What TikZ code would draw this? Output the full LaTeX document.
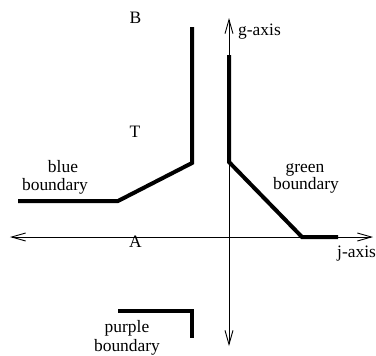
\documentclass[tikz,border=0pt]{standalone}
\usepackage{fontspec}
\setmainfont{Liberation Serif}
\usetikzlibrary{arrows.meta}
\begin{document}
\begin{tikzpicture}[x=1bp,y=-1bp,
  lbl/.style={font=\fontsize{17.5}{19}\selectfont, inner sep=0pt, align=center},
  axis/.style={line width=0.9bp, {Straight Barb[length=14bp,width=8bp]}-{Straight Barb[length=14bp,width=8bp]}},
  bnd/.style={line width=4bp, line join=miter}]
\useasboundingbox (0,0) rectangle (376,356);
% axes
\coordinate (gtop) at (229,18);
\coordinate (gbot) at (229,346);
\coordinate (jleft) at (10,237);
\coordinate (jright) at (373,237);
\draw[axis] (gbot) -- (gtop);
\draw[axis] (jleft) -- (jright);
% blue boundary
\draw[bnd] (18,201) -- (118,201) -- (192,163) -- (192,27);
% green boundary
\draw[bnd] (229,55) -- (229,162) -- (302,237) -- (338,237);
% purple boundary
\draw[bnd] (118,311) -- (192,311) -- (192,338);
% labels
\node[lbl, anchor=base] (B) at (135.5,23) {B};
\node[lbl, anchor=base] (T) at (135,137) {T};
\node[lbl, anchor=base] (A) at (135.5,247) {A};
\node[lbl, anchor=base west] (gax) at (238,35) {g-axis};
\node[lbl, anchor=base west] (jax) at (337,257) {j-axis};
\node[lbl, anchor=base] (blue1) at (63,172) {blue};
\node[lbl, anchor=base] (blue2) at (55,190) {boundary};
\node[lbl, anchor=base] (green1) at (305,172) {green};
\node[lbl, anchor=base] (green2) at (306,189) {boundary};
\node[lbl, anchor=base] (purple1) at (127,332) {purple};
\node[lbl, anchor=base] (purple2) at (127,351) {boundary};
\end{tikzpicture}
\end{document}
